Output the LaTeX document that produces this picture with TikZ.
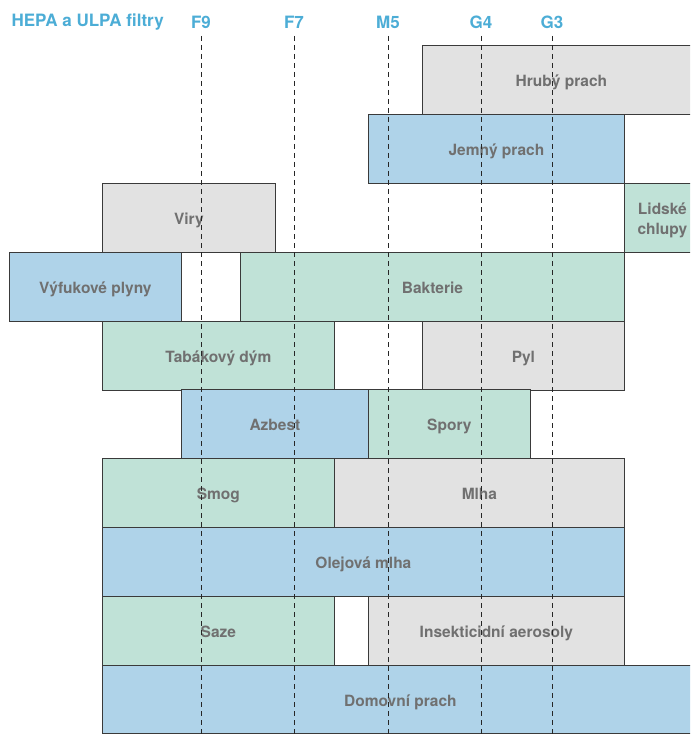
\documentclass[tikz,border=0pt]{standalone}
\usepackage{fontspec}
\setsansfont{TeX Gyre Heros}
\usetikzlibrary{positioning}
\definecolor{boxblue}{HTML}{AFD3E9}
\definecolor{boxgreen}{HTML}{C0E2D7}
\definecolor{boxgray}{HTML}{E2E2E2}
\definecolor{labelblue}{HTML}{4CADD6}
\definecolor{labelgray}{HTML}{707070}
\definecolor{edgegray}{HTML}{3A3A3A}

\begin{document}
\begin{tikzpicture}[
  x=1pt, y=-1pt,
  every node/.style={font=\sffamily\bfseries},
  box/.style={
    draw=edgegray, line width=0.8pt,
    anchor=north west, inner sep=0pt,
    minimum height=69pt, text height=14pt, text depth=0pt,
    text=labelgray, font=\sffamily\bfseries\fontsize{15.5}{20}\selectfont,
    align=center
  },
  blue box/.style={box, fill=boxblue},
  green box/.style={box, fill=boxgreen},
  gray box/.style={box, fill=boxgray},
  filter/.style={text=labelblue, font=\sffamily\bfseries\fontsize{17}{19}\selectfont},
  cut/.style={draw=black!85, line width=0.8pt, dash pattern=on 5pt off 4pt}
]
\clip (0,0) rectangle (690,738);
\fill[white] (0,0) rectangle (690,738);

% filter classes
\node[filter, anchor=west] (hepa) at (8,22) {HEPA a ULPA filtry};
\node[filter] (f9) at (201,22) {F9};
\node[filter] (f7) at (294,22) {F7};
\node[filter] (m5) at (388,22) {M5};
\node[filter] (g4) at (481,22) {G4};
\node[filter] (g3) at (552,22) {G3};

% particles
\node[gray box, minimum width=278pt] (hruby) at (422,45) {Hrubý prach};
\node[blue box, minimum width=256pt] (jemny) at (368,114) {Jemný prach};
\node[gray box, minimum width=173pt] (viry) at (102,183) {Viry};
\node[green box, minimum width=76pt, text height=33pt] (chlupy) at (624,183) {Lidské\\chlupy};
\node[blue box, minimum width=172pt] (vyfuk) at (9,252) {Výfukové plyny};
\node[green box, minimum width=384pt] (bakterie) at (240,252) {Bakterie};
\node[green box, minimum width=232pt] (tabak) at (102,321) {Tabákový dým};
\node[gray box, minimum width=202pt] (pyl) at (422,321) {Pyl};
\node[blue box, minimum width=187pt] (azbest) at (181,389) {Azbest};
\node[green box, minimum width=162pt] (spory) at (368,389) {Spory};
\node[green box, minimum width=232pt] (smog) at (102,458) {Smog};
\node[gray box, minimum width=290pt] (mlha) at (334,458) {Mlha};
\node[blue box, minimum width=522pt] (olej) at (102,527) {Olejová mlha};
\node[green box, minimum width=232pt] (saze) at (102,596) {Saze};
\node[gray box, minimum width=256pt] (aerosol) at (368,596) {Insekticidní aerosoly};
\node[blue box, minimum width=596pt, minimum height=68pt] (domovni) at (102,665) {Domovní prach};

% filter limits
\foreach \f in {f9,f7,m5,g4,g3} {
  \coordinate (\f-end) at (\f |- 0,740);
  \draw[cut] (\f |- 0,36) -- (\f-end);
}
\end{tikzpicture}
\end{document}
